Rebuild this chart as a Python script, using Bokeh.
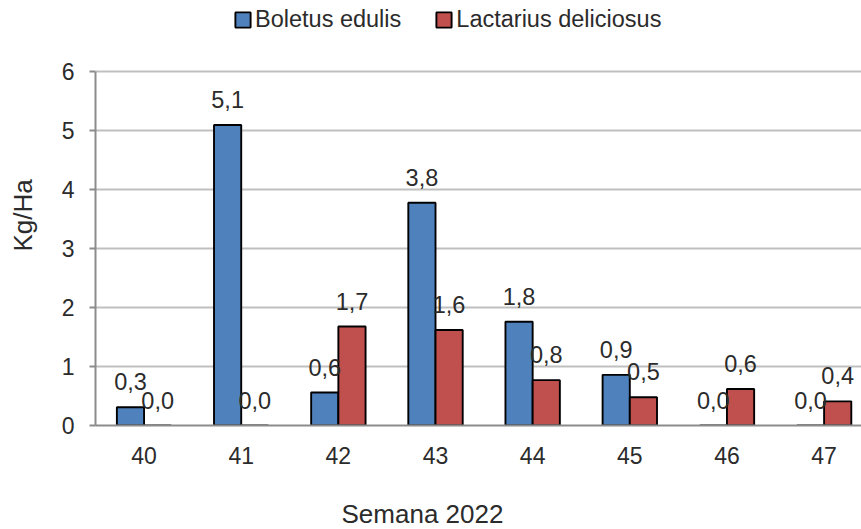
from bokeh.plotting import figure
from bokeh.models import (ColumnDataSource, LabelSet, Legend, LegendItem,
                          FixedTicker, Range1d, Title)
from bokeh.core.properties import value
from bokeh.transform import dodge
from bokeh.embed import file_html
from bokeh.resources import INLINE

weeks = ["40", "41", "42", "43", "44", "45", "46", "47"]
boletus = [0.31, 5.10, 0.56, 3.78, 1.76, 0.86, 0.0, 0.0]
lactarius = [0.0, 0.0, 1.68, 1.62, 0.77, 0.48, 0.62, 0.41]
y_ticks = [0, 1, 2, 3, 4, 5, 6]

FONT = "Liberation Sans"
TXT = "#2b2b2b"
BLUE = "#4F81BD"
RED = "#C0504D"
AXC = "#8c8c8c"

def fmt(v):
    return f"{v:.1f}".replace(".", ",")

src = ColumnDataSource(dict(
    x=list(range(len(weeks))),
    b=boletus,
    l=lactarius,
    bt=[fmt(v) for v in boletus],
    lt=[fmt(v) for v in lactarius],
))

# frame: x 93..861, y 0..425 (value 0 at 425 px, value 6 at ~71.5 px)
p = figure(width=861, height=529, output_backend="svg", toolbar_location=None,
           x_range=Range1d(-0.5, 7.385), y_range=Range1d(0, 7.2135),
           min_border_left=93, min_border_right=0, min_border_top=0,
           min_border_bottom=104)
p.outline_line_color = None
p.background_fill_color = "white"
p.border_fill_color = "white"

bw = 0.28
rb = p.vbar(x=dodge("x", -0.14, range=p.x_range), top="b", width=bw, source=src,
            fill_color=BLUE, line_color="black", line_width=1.9)
rl = p.vbar(x=dodge("x", 0.14, range=p.x_range), top="l", width=bw, source=src,
            fill_color=RED, line_color="black", line_width=1.9)

for col, ycol, off in (("bt", "b", -0.14), ("lt", "l", 0.14)):
    ls = LabelSet(x=dodge("x", off, range=p.x_range), y=ycol,
                  text=col, source=src, text_align="center",
                  text_baseline="alphabetic", y_offset=17,
                  text_font=value(FONT), text_font_size="23.5px", text_color=TXT)
    p.add_layout(ls)

# x axis
p.xaxis.ticker = FixedTicker(ticks=list(range(len(weeks))))
p.xaxis.major_label_overrides = {i: w for i, w in enumerate(weeks)}
p.xaxis.major_tick_line_color = None
p.xaxis.minor_tick_line_color = None
p.xaxis.axis_line_color = AXC
p.xaxis.axis_line_width = 2
p.xaxis.major_label_standoff = 15
p.xaxis.major_label_text_font = FONT
p.xaxis.major_label_text_font_size = "23px"
p.xaxis.major_label_text_color = TXT
p.xaxis.axis_label = "\u00a0"
p.xaxis.axis_label_text_font_size = "10px"
p.xaxis.axis_label_standoff = 16

# y axis
p.yaxis.ticker = FixedTicker(ticks=y_ticks)
p.yaxis.bounds = (0, 6)
p.yaxis.minor_tick_line_color = None
p.yaxis.major_tick_out = 6
p.yaxis.major_tick_in = 0
p.yaxis.major_tick_line_color = AXC
p.yaxis.major_tick_line_width = 2
p.yaxis.axis_line_color = AXC
p.yaxis.axis_line_width = 2
p.yaxis.major_label_standoff = 15
p.yaxis.major_label_text_font = FONT
p.yaxis.major_label_text_font_size = "23px"
p.yaxis.major_label_text_color = TXT
p.yaxis.axis_label = "\u00a0"
p.yaxis.axis_label_text_font_size = "10px"
p.yaxis.axis_label_standoff = 2

p.xgrid.grid_line_color = None
p.ygrid.grid_line_color = "#bfbfbf"
p.ygrid.grid_line_width = 2

# axis titles
p.add_layout(Title(text="Semana 2022", align="left", offset=246, standoff=0,
                   text_font=FONT, text_font_size="26px",
                   text_font_style="normal", text_color=TXT), "below")
p.add_layout(Title(text="Kg/Ha", align="left", offset=174, standoff=10,
                   text_font=FONT, text_font_size="26px",
                   text_font_style="normal", text_color=TXT), "left")

legend = Legend(items=[LegendItem(label="Boletus edulis", renderers=[rb]),
                       LegendItem(label="Lactarius deliciosus", renderers=[rl])],
                location=(138, 392), orientation="horizontal",
                glyph_width=19, glyph_height=19, label_standoff=3, spacing=33,
                padding=0, margin=0, border_line_alpha=0, background_fill_alpha=0,
                label_text_font=FONT, label_text_font_size="23.5px",
                label_text_color=TXT)
p.add_layout(legend, "center")

open("out.html", "w").write(file_html(p, INLINE))
